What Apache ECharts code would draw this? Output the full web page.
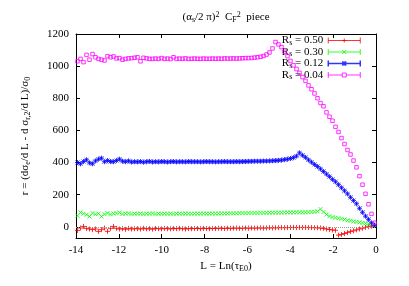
<!DOCTYPE html>
<html><head><meta charset="utf-8">
<script src="https://cdn.jsdelivr.net/npm/echarts@6/dist/echarts.min.js"></script>
<style>html,body{margin:0;padding:0;background:#fff}#c{width:409px;height:286px}</style>
</head><body><div id="c"></div>
<script>
const L = [-13.93,-13.79,-13.65,-13.51,-13.37,-13.23,-13.09,-12.95,-12.81,-12.67,-12.53,-12.39,-12.25,-12.11,-11.97,-11.83,-11.69,-11.55,-11.41,-11.27,
-11.13,-10.99,-10.85,-10.71,-10.57,-10.43,-10.29,-10.15,-10.01,-9.87,-9.73,-9.59,-9.45,-9.31,-9.17,-9.03,-8.89,-8.75,-8.61,-8.47,
-8.33,-8.19,-8.05,-7.91,-7.77,-7.63,-7.49,-7.35,-7.21,-7.07,-6.93,-6.79,-6.65,-6.51,-6.37,-6.23,-6.09,-5.95,-5.81,-5.67,
-5.53,-5.39,-5.25,-5.11,-4.97,-4.83,-4.69,-4.55,-4.41,-4.27,-4.13,-3.99,-3.85,-3.71,-3.57,-3.43,-3.29,-3.15,-3.01,-2.87,
-2.73,-2.59,-2.45,-2.31,-2.17,-2.03,-1.89,-1.75,-1.61,-1.47,-1.33,-1.19,-1.05,-0.91,-0.77,-0.63,-0.49,-0.35,-0.21,-0.07];

const rs050 = [-23,-8,2,-10,-14,-18,-14,-29,-18,-8,-29,-10,2,-10,-14,-12,-16,-10,-14,-12,
-12,-14,-10,-13,-12,-15,-11,-12,-13,-10,-12,-13,-11,-12,-10,-12,-14,-11,-12,-11,
-11,-12,-10,-11,-12,-10,-11,-9,-10,-11,-9,-10,-9,-8,-10,-9,-8,-9,-8,-8,
-8,-7,-8,-7,-6,-7,-6,-6,-5,-6,-5,-5,-4,-5,-4,-5,-4,-5,-5,-6,-6,
-8,-10,-14,-17,-20,-22,-52,-48,-42,-36,-30,-25,-19,-14,-9,-4,0,4,8];

const rs030 = [68,89,81,75,64,85,78,82,64,78,85,78,82,85,89,80,82,84,80,82,
81,83,80,82,81,84,80,82,81,82,81,82,80,82,82,81,82,82,81,82,
82,82,83,82,82,83,82,83,83,83,83,84,84,84,85,85,85,86,86,86,
86,87,87,87,88,88,88,88,88,89,89,89,89,90,90,90,
90,91,92,93,96,110,92,76,66,60,56,53,49,45,40,37,33,30,27,24,21,18,15,10];

const rs012 = [400,392,406,417,398,392,410,421,427,405,412,406,405,412,421,408,405,410,403,405,
404,406,402,405,407,403,405,404,406,405,403,405,406,404,405,405,404,406,405,405,
405,404,405,406,405,405,404,405,405,406,405,405,405,406,405,406,406,407,407,408,
408,408,409,409,410,411,412,413,415,418,421,425,430,440,
460,445,432,416,402,388,375,360,344,328,312,295,280,262,243,224,205,183,163,143,115,90,66,46,24,10];

const rs004 = [1030,1045,1025,1070,1040,1075,1055,1045,1040,1035,1062,1055,1060,1048,1050,1040,1045,1048,1050,1052,
1055,1030,1052,1048,1045,1045,1047,1045,1050,1045,1047,1044,1055,1045,1047,1046,1048,1045,1046,1047,
1046,1045,1047,1046,1046,1047,1046,1047,1046,1048,1047,1047,1048,1047,1048,1049,1050,1050,1051,1053,
1055,1058,1063,1072,1085,1110,1150,
1135,1118,1090,1062,1032,1005,982,958,932,908,880,856,830,800,770,750,712,685,660,622,590,552,515,478,450,412,370,315,262,205,140,80,25];

const seriesNames = ['0.50','0.30','0.12','0.04'];
const seriesData = [rs050, rs030, rs012, rs004];
const colors = ['#ff0000','#00ff00','#0000ff','#ff00ff'];
const yTicks = [0,200,400,600,800,1000,1200];

const FONT = 'Liberation Serif';
const symbols = [
  'path://M0,5L10,5M5,0L5,10',
  'path://M0,0L10,10M0,10L10,0',
  'path://M0,5L10,5M5,0L5,10M1,1L9,9M1,9L9,1',
  'rect'
];
const symSizes = [5,4,5,3.5];
const legendIcons = [
  'path://M0,4L32,4M0,1L0,7M32,1L32,7M14,4L18,4M16,2L16,6',
  'path://M0,4L32,4M0,1L0,7M32,1L32,7M14,2L18,6M14,6L18,2',
  'path://M0,4L32,4M0,1L0,7M32,1L32,7M14,4L18,4M16,2L16,6M14,2L18,6M14,6L18,2',
  'path://M0,4L14,4M18,4L32,4M0,1L0,7M32,1L32,7M14,2L18,2L18,6L14,6Z'
];

const chart = echarts.init(document.getElementById('c'), null, {renderer:'canvas'});
const sub = {fontSize:8, fontFamily:FONT, color:'#000', lineHeight:6, verticalAlign:'bottom'};
const base = {fontSize:11, fontFamily:FONT, color:'#000', lineHeight:13};

const series = seriesNames.map((n,k) => ({
  name: n,
  type: 'scatter',
  data: L.map((x,i) => [x, seriesData[k][i]]),
  symbol: symbols[k],
  symbolSize: symSizes[k],
  itemStyle: {color:'rgba(0,0,0,0)', borderColor: colors[k], borderWidth: 1},
  z: 2 + k,
  silent: true,
  markLine: k === 0 ? {silent:true, symbol:'none', label:{show:false},
    lineStyle:{color:'#999', type:'dotted', width:1}, data:[{yAxis:0}]} : undefined
}));

chart.setOption({
  animation: false,
  backgroundColor: '#fff',
  grid: {left:76, right:33, top:34, bottom:48, containLabel:false},
  xAxis: [{
    type:'value', min:-14, max:0, interval:2, position:'bottom',
    name:'{t|L = Ln(τ}{s|E0}{t|)}', nameLocation:'middle', nameGap:20,
    nameTextStyle:{rich:{t:base, s:sub}},
    axisLine:{show:true, onZero:false, lineStyle:{color:'#000', width:1}},
    axisTick:{show:true, inside:true, length:4, lineStyle:{color:'#000'}},
    axisLabel:{margin:7, fontFamily:FONT, fontSize:11, color:'#000', formatter: v => String(v)},
    splitLine:{show:false}
  },{
    type:'value', min:-14, max:0, interval:2, position:'top',
    axisLine:{show:true, onZero:false, lineStyle:{color:'#000', width:1}},
    axisTick:{show:true, inside:true, length:4, lineStyle:{color:'#000'}},
    axisLabel:{show:false}, splitLine:{show:false}
  }],
  yAxis: [{
    type:'value', min:-70, max:1200, position:'left',
    name:'{t|r = (dσ}{s|e}{t|/d L - d σ}{s|r,2}{t|/d L)/σ}{s|0}', nameLocation:'middle', nameGap:44, nameRotate:90,
    nameTextStyle:{rich:{t:base, s:sub}},
    axisLine:{show:true, onZero:false, lineStyle:{color:'#000', width:1}},
    axisTick:{show:true, inside:true, length:4, customValues:yTicks, lineStyle:{color:'#000'}},
    axisLabel:{margin:7, fontFamily:FONT, fontSize:11, color:'#000', customValues:yTicks, formatter: v => String(v)},
    splitLine:{show:false}
  },{
    type:'value', min:-70, max:1200, position:'right',
    axisLine:{show:true, onZero:false, lineStyle:{color:'#000', width:1}},
    axisTick:{show:true, inside:true, length:4, customValues:yTicks, lineStyle:{color:'#000'}},
    axisLabel:{show:false}, splitLine:{show:false}
  }],
  legend: {
    orient:'vertical', align:'right', right:48, top:35, padding:0, itemGap:0,
    itemWidth:32, itemHeight:6, selectedMode:false,
    data: seriesNames.map((n,k) => ({name:n, icon:legendIcons[k],
      itemStyle:{color:'rgba(0,0,0,0)', borderColor:colors[k], borderWidth: k===2?1.5:1}})),
    formatter: n => '{t|R}{s|s}{t| = ' + n + '}',
    textStyle:{fontFamily:FONT, fontSize:11, color:'#000', rich:{t:{fontSize:11, fontFamily:FONT, color:'#000', lineHeight:12}, s:sub}}
  },
  graphic: [{
    type:'text', x:226, y:17, silent:true,
    style:{
      text:'{t|(α}{s|s}{t|/2 π)}{p|2}{t|  C}{s|F}{p|2}{t|  piece}',
      align:'center', verticalAlign:'middle',
      rich:{t:{fontSize:11, fontFamily:FONT, fill:'#000', lineHeight:13},
            s:{fontSize:8, fontFamily:FONT, fill:'#000', lineHeight:6, verticalAlign:'bottom'},
            p:{fontSize:8, fontFamily:FONT, fill:'#000', lineHeight:6, verticalAlign:'top'}}
    }
  }],
  series: series
});
</script>
</body></html>
